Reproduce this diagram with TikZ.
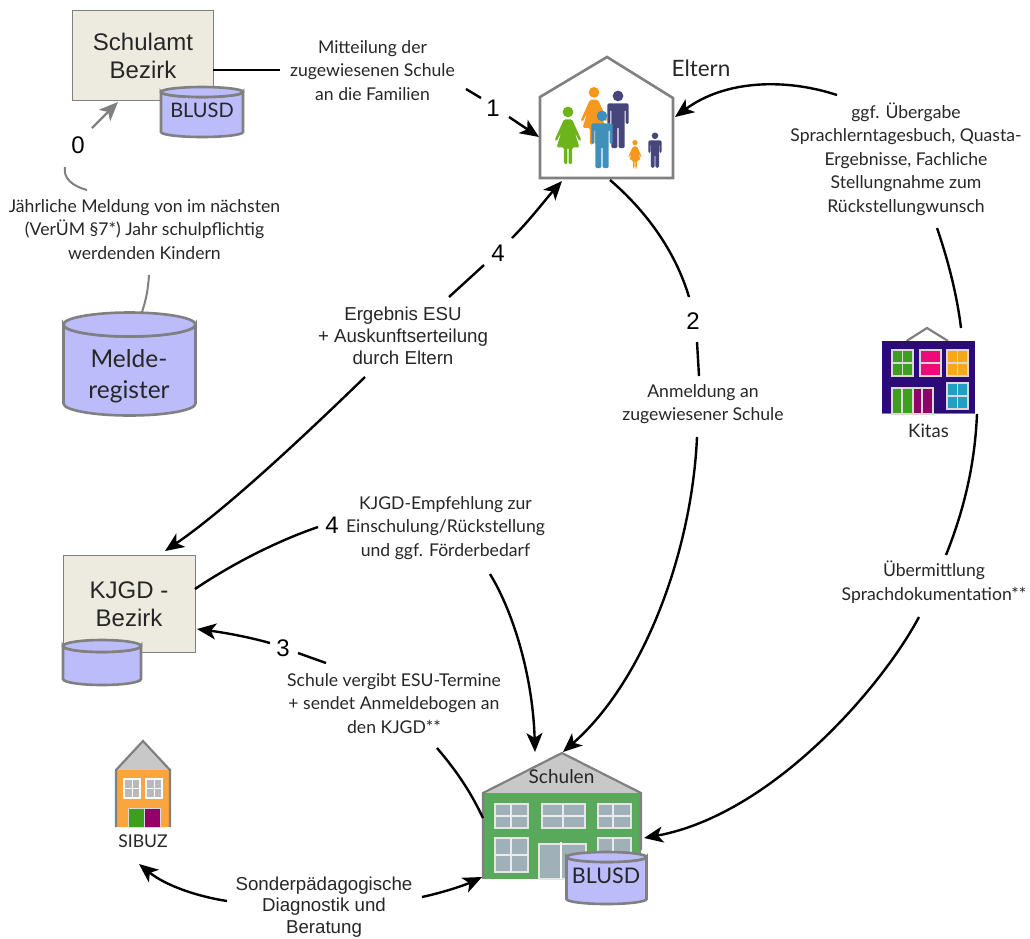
\documentclass[tikz,border=0pt]{standalone}
\usepackage{fontspec}
\setmainfont{Liberation Sans}
\newfontfamily\myr{Lato}
\usetikzlibrary{arrows.meta,shapes.geometric}
\definecolor{beige}{HTML}{EDEBE0}
\definecolor{cyl}{HTML}{BCBCFB}
\definecolor{gr}{HTML}{808080}
\definecolor{txt}{HTML}{262626}
\definecolor{pane}{HTML}{9FB0B8}
\definecolor{sgreen}{HTML}{58A95B}
\definecolor{roofc}{HTML}{C8C8C8}
\definecolor{pgreen}{HTML}{6CB31C}
\definecolor{porange}{HTML}{F7981E}
\definecolor{pnavy}{HTML}{46467C}
\definecolor{pblue}{HTML}{4090BC}
\definecolor{kviolet}{HTML}{2C0A78}
\definecolor{kgreen}{HTML}{3CA01E}
\definecolor{kpink}{HTML}{EE0A78}
\definecolor{kyellow}{HTML}{F7A814}
\definecolor{kblue}{HTML}{22A0C4}
\definecolor{kpurple}{HTML}{900068}
\definecolor{sorange}{HTML}{FBA53F}
\tikzset{
 lab/.style={font=\myr\fontsize{17.6}{23.5}\selectfont,align=center,text=txt,inner sep=0pt},
 hlab/.style={font=\fontsize{18.7}{21.8}\selectfont,align=center,text=txt,inner sep=0pt},
 num/.style={font=\fontsize{24}{26}\selectfont,text=black,inner sep=0pt},
 boxlab/.style={font=\fontsize{24}{28}\selectfont,align=center,text=txt,inner sep=0pt},
 mboxlab/.style={font=\myr\fontsize{24.5}{31}\selectfont,align=center,text=txt,inner sep=0pt},
 bluebox/.style={draw=gr,fill=beige,line width=1pt},
 conn/.style={draw=black,line width=2.4pt},
 arr/.style={conn,-{Stealth[length=19pt,width=16pt,inset=5pt]}},
 garr/.style={draw=gr,line width=2.4pt,-{Stealth[length=19pt,width=16pt,inset=5pt]}},
 gline/.style={draw=gr,line width=2pt},
 house/.style={draw=gr,line width=2.6pt,line join=miter},
 pane/.style={fill=pane,draw=white!90!black,line width=1.2pt},
}
% cylinder: centre x, top y, half width, height, ry
\newcommand{\cyl}[5]{%
 \path[fill=cyl,draw=gr,line width=2.6pt] (#1-#3,#2) -- (#1-#3,#2+#4) arc[start angle=180,end angle=0,x radius=#3,y radius=#5] -- (#1+#3,#2) arc[start angle=0,end angle=180,x radius=#3,y radius=#5] -- cycle;
 \path[fill=cyl,draw=gr,line width=2.6pt] (#1,#2) ellipse[x radius=#3,y radius=#5];
}
\newcommand{\woman}[4]{% x, top y, scale, colour
 \begin{scope}[shift={(#1,#2)},scale=#3]
 \fill[#4] (0,8) circle[radius=8];
 \fill[#4,rounded corners=1.5pt] (-6,19) -- (6,19) -- (11,30) -- (20,50) -- (17,52) -- (10,38) -- (17,61) -- (6,61) -- (6,86) -- (1,86) -- (1,61) -- (-1,61) -- (-1,86) -- (-6,86) -- (-6,61) -- (-17,61) -- (-10,38) -- (-17,52) -- (-20,50) -- (-11,30) -- cycle;
 \end{scope}}
\newcommand{\man}[4]{%
 \begin{scope}[shift={(#1,#2)},scale=#3]
 \fill[#4] (0,8) circle[radius=8];
 \fill[#4,rounded corners=1.5pt] (-16,19) -- (16,19) -- (16,50) -- (11.5,50) -- (11.5,28) -- (10,28) -- (10,86) -- (1,86) -- (1,54) -- (-1,54) -- (-1,86) -- (-10,86) -- (-10,28) -- (-11.5,28) -- (-11.5,50) -- (-16,50) -- cycle;
 \end{scope}}
\begin{document}
\begin{tikzpicture}[x=1pt,y=-1pt]
\useasboundingbox (0,0) rectangle (1030,938);
% Schulamt
\draw[bluebox] (72,10) rectangle (213,100);
\node[boxlab] (schulamt) at (143,56) {Schulamt\\Bezirk};
\cyl{202}{92}{41}{40}{5}
\node[font=\myr\fontsize{20}{24}\selectfont,text=txt,inner sep=0pt] (blusdA) at (202,110) {BLUSD};
% Melderegister
\cyl{129.5}{324.5}{66}{79}{12}
\node[mboxlab] (melde) at (129,376) {Melde-\\register};
% KJGD
\draw[bluebox] (63,555) rectangle (195,652);
\node[boxlab] (kjgd) at (129,604) {KJGD -\\Bezirk};
\cyl{102}{646}{39}{33}{6}
% Eltern house
\path[house,fill=white] (540,97) -- (607,57) -- (673,98) -- (673,178) -- (540,178) -- cycle;
\coordinate (hw) at (539,137);
\coordinate (he) at (675,117);
\coordinate (hs1) at (562,181);
\coordinate (hs2) at (610,180);
\woman{594}{87}{.67}{porange}
\man{618}{90.6}{.67}{pnavy}
\man{602}{110.6}{.67}{pblue}
\woman{568}{106.6}{.67}{pgreen}
\woman{635}{140}{.33}{porange}
\man{655}{132.5}{.41}{pnavy}
\node[font=\myr\fontsize{22.5}{24}\selectfont,text=txt,inner sep=0pt] (eltern) at (701,68) {Eltern};
% Kitas
\draw[gr,line width=2.2pt] (906.5,341) -- (927,328) -- (948,341);
\fill[kviolet] (882,341) rectangle (975,413);
\draw[gr,line width=.8pt] (882,413) -- (975,413);
\foreach \a/\b/\c/\d/\f in {892/350/913/376/kgreen,920/350/941/376/kpink,947/350/968/376/kyellow}{\fill[\f,draw=white!85!black,line width=1.4pt] (\a,\b) rectangle (\c,\d);}
\draw[white!85!black,line width=1.4pt] (902.5,350) -- (902.5,376) (892,363) -- (913,363) (920,363) -- (941,363) (957.5,350) -- (957.5,376) (947,363) -- (968,363);
\fill[kblue,draw=white!85!black,line width=1.4pt] (947,383) rectangle (968,409);
\draw[white!85!black,line width=1.4pt] (957.5,383) -- (957.5,409) (947,396) -- (968,396);
\fill[kgreen] (892,388) rectangle (913,414);
\fill[kpurple] (913,388) rectangle (933,414);
\draw[white!85!black,line width=1.2pt] (892,388) rectangle (933,414) (902,388) -- (902,414) (913,388) -- (913,414) (922,388) -- (922,414);
\node[font=\myr\fontsize{18.5}{18}\selectfont,text=txt,inner sep=0pt] (kitas) at (928.5,431) {Kitas};
% SIBUZ
\fill[roofc] (116,770) -- (143,741) -- (170,770) -- cycle;
\fill[sorange] (116,770) rectangle (169,827);
\draw[gr,line width=2.2pt] (116,827) -- (116,770) -- (143,741) -- (170,770) -- (170,827);
\foreach \a in {123,145}{
 \fill[white] (\a,778) rectangle (\a+18,799);
 \fill[gray!55] (\a+2,780) rectangle (\a+16,797);
 \draw[white,line width=1pt] (\a+9,780) -- (\a+9,797) (\a+2,788) -- (\a+16,788);}
\fill[kgreen] (128,808) rectangle (144,827);
\fill[kpurple] (144,808) rectangle (160,827);
\draw[white!85!black,line width=.8pt] (128,808) rectangle (160,827) (144,808) -- (144,827);
\node[font=\myr\fontsize{17.6}{18}\selectfont,text=txt,inner sep=0pt] (sibuz) at (143,841) {SIBUZ};
% Schulen
\fill[roofc] (483,793) -- (562,753) -- (641,793) -- cycle;
\fill[sgreen] (483,793) rectangle (641,879);
\draw[gr,line width=2.2pt] (483,879) -- (483,793) -- (562,753) -- (641,793) -- (641,850);
\foreach \a/\b/\c/\d in {495/804/528/828,542/804/585/828,598/804/631/828,495/838/528/872,598/838/631/860}{\path[pane] (\a,\b) rectangle (\c,\d);}
\draw[white!92!black,line width=1.2pt] (511,804) -- (511,828) (495,816) -- (528,816) (563,804) -- (563,828) (542,816) -- (585,816) (613,804) -- (613,828) (598,816) -- (631,816) (511,838) -- (511,872) (495,855) -- (528,855) (613,838) -- (613,860);
\path[pane] (539,844) rectangle (586,879);
\draw[white,line width=2pt] (560.5,842) -- (560.5,879);
\cyl{606.5}{857}{40}{42}{5}
\node[font=\myr\fontsize{21.5}{24}\selectfont,text=txt,inner sep=0pt] (blusdB) at (606,876) {BLUSD};
\node[font=\myr\fontsize{19}{18}\selectfont,text=txt,inner sep=0pt] (schulen) at (561.5,777) {Schulen};
% texts
\node[lab] (mit) at (372.5,70.5) {Mitteilung der\\zugewiesenen Schule\\an die Familien};
\node[lab] (ggf) at (906,159) {ggf. Übergabe\\Sprachlerntagesbuch, Quasta-\\Ergebnisse, Fachliche\\Stellungnahme zum\\Rückstellungwunsch};
\node[lab] (jaehr) at (144.5,229.5) {Jährliche Meldung von im nächsten\\(VerÜM §7*) Jahr schulpflichtig\\werdenden Kindern};
\node[hlab] (erg) at (403,336) {Ergebnis ESU\\+ Auskunftserteilung\\durch Eltern};
\node[lab] (anm) at (703,404) {Anmeldung an\\zugewiesener Schule};
\node[lab] (empf) at (445.5,528) {KJGD-Empfehlung zur\\Einschulung/Rückstellung\\und ggf. Förderbedarf};
\node[lab] (ueb) at (934,582) {Übermittlung\\Sprachdokumentation**};
\node[lab] (verg) at (394,703.5) {Schule vergibt ESU-Termine\\+ sendet Anmeldebogen an\\den KJGD**};
\node[hlab] (sond) at (324,907) {Sonderpädagogische\\Diagnostik und\\Beratung};
\node[num] (n0) at (78,145) {0};
\node[num] (n1) at (493,108) {1};
\node[num] (n2) at (693,321) {2};
\node[num] (n3) at (283,648) {3};
\node[num] (n4a) at (498,253) {4};
\node[num] (n4b) at (332,525) {4};
% connector anchor points
\coordinate (c1a) at (213,70);\coordinate (c1b) at (280,70);
\coordinate (c1c) at (466,89);\coordinate (c1d) at (481,98);
\coordinate (c1e) at (509,117);
\coordinate (q1) at (837,95);
\coordinate (q2) at (937,228);\coordinate (q3) at (961,328);
\coordinate (k1) at (977,414);\coordinate (k2) at (946,555);
\coordinate (k3) at (919,617);\coordinate (k4) at (644,838);
\coordinate (e1) at (689,297);\coordinate (e2) at (697,342);\coordinate (e3) at (699,376);
\coordinate (e4) at (697,437);\coordinate (e5) at (563,752);
\coordinate (f1) at (449,297);\coordinate (f2) at (484,265);
\coordinate (f3) at (512,238);
\coordinate (f4) at (365,377);\coordinate (f5) at (165,551);
\coordinate (g1) at (195,589);\coordinate (g2) at (318,527);
\coordinate (g3) at (490,574);\coordinate (g4) at (535,752);
\coordinate (h1) at (270,643);\coordinate (h2) at (197,629);
\coordinate (h3) at (298,653);\coordinate (h4) at (326,663);
\coordinate (h5) at (437,748);\coordinate (h6) at (483,818);
\coordinate (i1) at (227,901);\coordinate (i2) at (139,864);
\coordinate (i3) at (422,897);\coordinate (i4) at (482,877);
\coordinate (z1) at (92,128);\coordinate (z2) at (118,102);
\coordinate (z3) at (65,167);\coordinate (z4) at (87,190);
\coordinate (z5) at (149,275);\coordinate (z6) at (142,312);
% connectors
\draw[conn] (c1a) -- (c1b);
\draw[conn] (c1c) -- (c1d);
\draw[arr] (c1e) -- (hw);
\draw[arr] (q1) .. controls (785,78) and (725,80) .. (he);
\draw[conn] (q2) .. controls (948,260) and (957,295) .. (q3);
\draw[conn] (k1) .. controls (975,460) and (966,505) .. (k2);
\draw[arr] (k3) .. controls (880,690) and (770,815) .. (k4);
\draw[conn] (hs2) .. controls (645,210) and (675,250) .. (e1);
\draw[conn] (e2) -- (e3);
\draw[arr] (e4) .. controls (692,550) and (645,680) .. (e5);
\draw[conn] (f1) -- (f2);
\draw[arr] (f3) .. controls (530,220) and (545,200) .. (hs1);
\draw[arr] (f4) .. controls (300,440) and (225,510) .. (f5);
\draw[conn] (g1) .. controls (235,562) and (280,540) .. (g2);
\draw[arr] (g3) .. controls (515,615) and (533,680) .. (g4);
\draw[arr] (h1) .. controls (245,636) and (220,632) .. (h2);
\draw[conn] (h3) -- (h4);
\draw[conn] (h5) .. controls (460,775) and (472,795) .. (h6);
\draw[arr] (i1) .. controls (195,896) and (165,885) .. (i2);
\draw[arr] (i3) .. controls (445,892) and (465,885) .. (i4);
\draw[garr] (z1) -- (z2);
\draw[gline] (z3) .. controls (63,178) and (72,186) .. (z4);
\draw[gline] (z5) .. controls (148,290) and (146,300) .. (z6);
\end{tikzpicture}
\end{document}
